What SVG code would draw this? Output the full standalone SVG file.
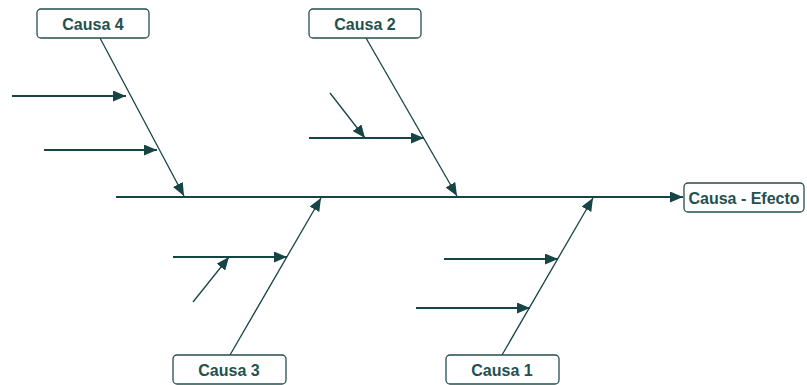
<svg xmlns="http://www.w3.org/2000/svg" width="807" height="385" viewBox="0 0 807 385">
<style>
.box{fill:#fff;stroke:#244f4f;stroke-width:1.3}
.lbl{font-family:"Liberation Sans",Arial,sans-serif;font-weight:bold;font-size:16px;fill:#245050;text-anchor:middle}
.bone{stroke:#174444;stroke-width:1.3;fill:none}
.sub{stroke:#174444;stroke-width:2;fill:none}
.spine{stroke:#174444;stroke-width:2;fill:none}
</style>
<defs>
<marker id="ah" viewBox="0 0 13 11" refX="13" refY="5.5" markerWidth="13" markerHeight="11" markerUnits="userSpaceOnUse" orient="auto">
<path d="M0,0 L13,5.5 L0,11 z" fill="#174444"/>
</marker>
</defs>
<g id="connectors">
<line class="spine" x1="116" y1="197" x2="683" y2="197" marker-end="url(#ah)"/>
<line class="bone" x1="100" y1="38" x2="184" y2="196" marker-end="url(#ah)"/>
<line class="bone" x1="366" y1="38" x2="457" y2="196" marker-end="url(#ah)"/>
<line class="bone" x1="230" y1="355" x2="321" y2="198" marker-end="url(#ah)"/>
<line class="bone" x1="502" y1="355" x2="593" y2="198" marker-end="url(#ah)"/>
<line class="sub" x1="12" y1="96" x2="126" y2="96" marker-end="url(#ah)"/>
<line class="sub" x1="44" y1="150" x2="157" y2="150" marker-end="url(#ah)"/>
<line class="sub" x1="309" y1="138" x2="424" y2="138" marker-end="url(#ah)"/>
<line class="bone" x1="330" y1="93" x2="365" y2="138" marker-end="url(#ah)"/>
<line class="sub" x1="173" y1="257" x2="287" y2="257" marker-end="url(#ah)"/>
<line class="bone" x1="193" y1="302" x2="229" y2="257" marker-end="url(#ah)"/>
<line class="sub" x1="444" y1="259" x2="558" y2="259" marker-end="url(#ah)"/>
<line class="sub" x1="416" y1="308" x2="530" y2="308" marker-end="url(#ah)"/>
</g>
<g id="causa4"><rect class="box" x="37" y="9" width="112" height="29" rx="4"/><text class="lbl" x="93" y="29.5">Causa 4</text></g>
<g id="causa2"><rect class="box" x="309" y="9" width="112" height="29" rx="4"/><text class="lbl" x="365" y="29.5">Causa 2</text></g>
<g id="causa3"><rect class="box" x="173" y="355" width="113" height="29" rx="4"/><text class="lbl" x="229" y="375.5">Causa 3</text></g>
<g id="causa1"><rect class="box" x="446" y="355" width="113" height="29" rx="4"/><text class="lbl" x="502" y="375.5">Causa 1</text></g>
<g id="efecto"><rect class="box" x="684" y="183" width="120" height="29" rx="4"/><text class="lbl" x="744" y="203.5">Causa - Efecto</text></g>
</svg>
